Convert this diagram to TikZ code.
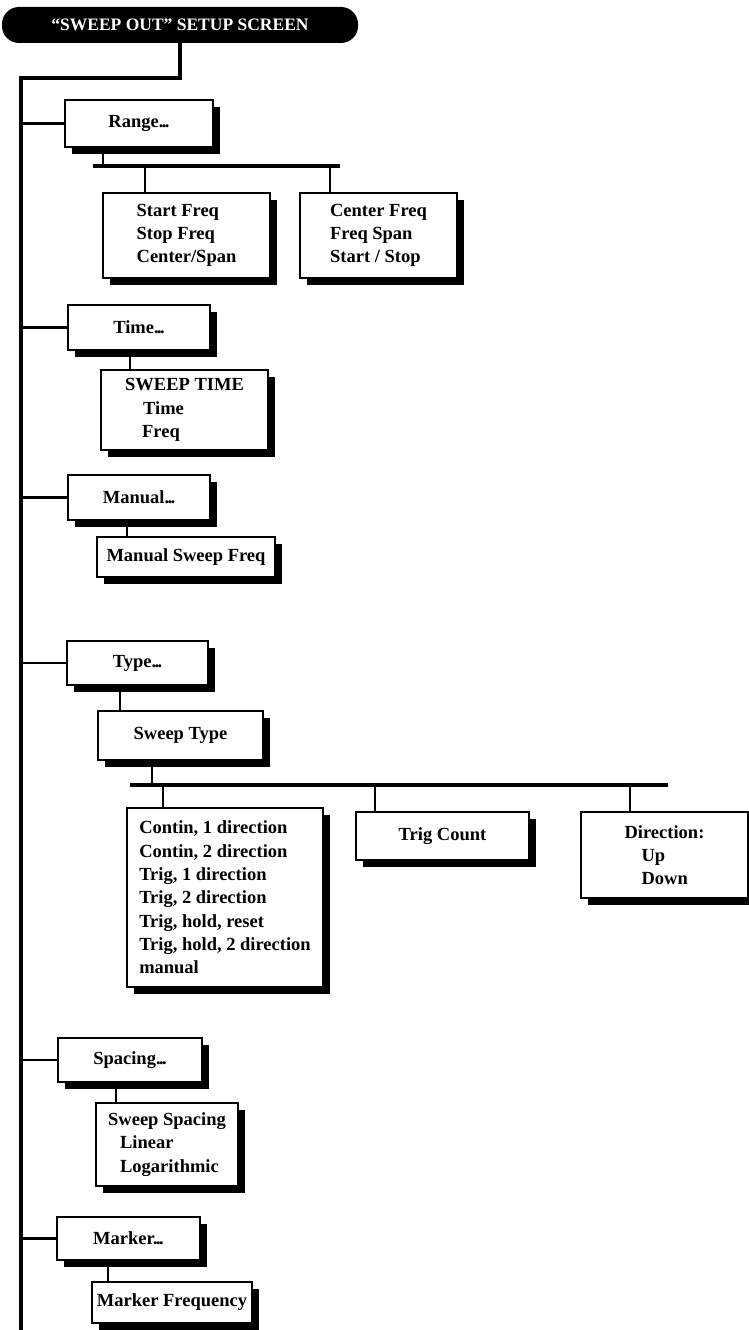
\documentclass[tikz,border=0pt]{standalone}
\usepackage{fontspec}
\setmainfont{Liberation Serif}
\usetikzlibrary{shadows,calc}
\newcommand{\dotsx}{.\kern-1.6pt.\kern-1.6pt.}
\begin{document}
\begin{tikzpicture}[x=1pt,y=-1pt,
  bx/.style={draw=black, line width=1.1pt, fill=white, inner sep=0pt, align=left,
    font=\fontsize{18.5}{23.3}\selectfont\bfseries,
    drop shadow={shadow xshift=7pt, shadow yshift=-7pt, fill=black, opacity=1}},
  trunk/.style={line width=3.2pt},
  bar/.style={line width=3.6pt},
  stem/.style={line width=2pt},
  branch/.style={line width=2.4pt},
  pill/.style={fill=black, rounded corners=17pt, text=white, inner sep=0pt,
    font=\fontsize{17.5}{20}\selectfont\bfseries}]
\useasboundingbox (0,0) rectangle (749,1330);

% title
\node[pill, minimum width=356pt, minimum height=36pt] (title) at (180,25) {``SWEEP OUT'' SETUP SCREEN};

% level 1 boxes
\node[bx, minimum width=148pt, minimum height=47pt] (range) at (139,123.5) {Range\dotsx};
\node[bx, minimum width=142pt, minimum height=45pt] (time) at (139,327.5) {Time\dotsx};
\node[bx, minimum width=142pt, minimum height=45pt] (manual) at (139,497.5) {Manual\dotsx};
\node[bx, minimum width=141pt, minimum height=44pt] (type) at (137.5,663) {Type\dotsx};
\node[bx, minimum width=144pt, minimum height=44pt] (spacing) at (130,1060) {Spacing\dotsx};
\node[bx, minimum width=143pt, minimum height=43pt] (marker) at (128.5,1238.5) {Marker\dotsx};

% level 2 boxes
\node[bx, minimum width=167pt, minimum height=85pt] (startf) at (186.5,235.5) {Start Freq\\Stop Freq\\Center/Span};
\node[bx, minimum width=157pt, minimum height=85pt] (centerf) at (378.5,235.5) {Center Freq\\Freq Span\\Start / Stop};
\node[bx, minimum width=167pt, minimum height=80pt] (sweeptime) at (184.5,410) {SWEEP TIME\\\hspace*{18pt}Time\\\hspace*{17pt}Freq};
\node[bx, minimum width=178pt, minimum height=40pt] (msf) at (186,557) {Manual Sweep Freq};
\node[bx, minimum width=165pt, minimum height=49pt] (sweeptype) at (180.5,735.5) {Sweep Type};
\node[bx, minimum width=196pt, minimum height=179pt] (contin) at (225,897.5) {Contin, 1 direction\\Contin, 2 direction\\Trig, 1 direction\\Trig, 2 direction\\Trig, hold, reset\\Trig, hold, 2 direction\\manual};
\node[bx, minimum width=173pt, minimum height=48pt] (trigcount) at (442.5,836) {Trig Count};
\node[bx, minimum width=167pt, minimum height=86pt] (direction) at (664.5,855) {Direction:\\\hspace*{17pt}Up\\\hspace*{17pt}Down};
\node[bx, minimum width=142pt, minimum height=83pt] (sweepspacing) at (167,1144.5) {Sweep Spacing\\\hspace*{12pt}Linear\\\hspace*{12pt}Logarithmic};
\node[bx, minimum width=160pt, minimum height=41pt] (markerfreq) at (172,1302.5) {Marker Frequency};

% trunk
\coordinate (t0) at (21,78);
\coordinate (t1) at (21,1332);
\draw[trunk] (title.south) |- (t0) -- (t1);

% branches from trunk
\foreach \n in {range,time,manual,type,spacing,marker}
  \draw[branch] (\n.west) -- (\n.west -| t0);

% range bar
\coordinate (rb1) at (93,166);
\coordinate (rb2) at (340,166);
\coordinate (rs) at (103,166);
\coordinate (rd1) at (145,166);
\coordinate (rd2) at (330,166);
\draw[stem] (rs) -- (rs |- range.south);
\draw[bar] (rb1) -- (rb2);
\draw[stem] (rd1) -- (rd1 |- startf.north);
\draw[stem] (rd2) -- (rd2 |- centerf.north);

% simple stems
\draw[stem] ([xshift=30pt]sweeptime.north west) -- ([xshift=30pt]sweeptime.north west |- time.south);
\draw[stem] ([xshift=31pt]msf.north west) -- ([xshift=31pt]msf.north west |- manual.south);
\draw[stem] ([xshift=23pt]sweeptype.north west) -- ([xshift=23pt]sweeptype.north west |- type.south);
\draw[stem] ([xshift=21pt]sweepspacing.north west) -- ([xshift=21pt]sweepspacing.north west |- spacing.south);
\draw[stem] ([xshift=17pt]markerfreq.north west) -- ([xshift=17pt]markerfreq.north west |- marker.south);

% sweep type bar
\coordinate (tb1) at (130,785);
\coordinate (tb2) at (668,785);
\coordinate (ts) at (152,785);
\coordinate (td1) at (163,785);
\coordinate (td2) at (375,785);
\coordinate (td3) at (630,785);
\draw[stem] (ts) -- (ts |- sweeptype.south);
\draw[bar] (tb1) -- (tb2);
\draw[stem] (td1) -- (td1 |- contin.north);
\draw[stem] (td2) -- (td2 |- trigcount.north);
\draw[stem] (td3) -- (td3 |- direction.north);
\end{tikzpicture}
\end{document}
